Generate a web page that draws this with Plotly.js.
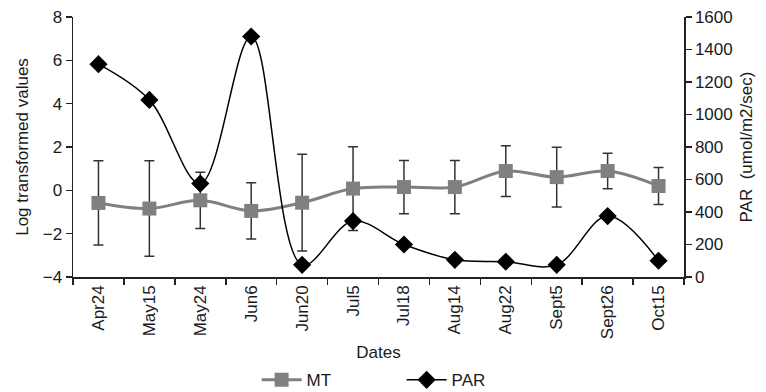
<!DOCTYPE html>
<html>
<head>
<meta charset="utf-8">
<script src="https://cdn.plot.ly/plotly-3.0.1.min.js"></script>
<style>html,body{margin:0;padding:0;background:#fff;}#chart{width:766px;height:392px;}</style>
</head>
<body>
<div id="chart"></div>
<script>
const dates = ["Apr24","May15","May24","Jun6","Jun20","Jul5","Jul18","Aug14","Aug22","Sept5","Sept26","Oct15"];
const mtValues = [-0.58, -0.84, -0.46, -0.95, -0.57, 0.08, 0.15, 0.15, 0.89, 0.61, 0.89, 0.20];
const mtErrors = [1.94, 2.20, 1.30, 1.30, 2.23, 1.93, 1.23, 1.23, 1.17, 1.38, 0.82, 0.85];
const parValues = [1310, 1090, 575, 1480, 75, 344, 200, 106, 94, 75, 375, 100];
const leftTicks = [-4, -2, 0, 2, 4, 6, 8];
const rightTicks = [0, 200, 400, 600, 800, 1000, 1200, 1400, 1600];

const FONT = "Liberation Sans, Arial, sans-serif";
const TXT = "#1a1a1a";
const traces = [
  {
    x: dates, y: mtValues, name: "MT", type: "scatter", mode: "lines+markers",
    line: {color: "#808080", width: 3, shape: "spline", smoothing: 1},
    marker: {symbol: "square", size: 14, color: "#808080"},
    error_y: {type: "data", array: mtErrors, visible: true, color: "#333333", thickness: 1.5, width: 5},
    yaxis: "y"
  },
  {
    x: dates, y: parValues, name: "PAR", type: "scatter", mode: "lines+markers",
    line: {color: "#000000", width: 1.5, shape: "spline", smoothing: 1},
    marker: {symbol: "diamond", size: 14, color: "#000000"},
    yaxis: "y2"
  }
];

const layout = {
  width: 766, height: 392,
  margin: {l: 73, r: 82, t: 17, b: 115, pad: 0, autoexpand: false},
  paper_bgcolor: "#ffffff", plot_bgcolor: "#ffffff",
  font: {family: FONT, size: 17, color: TXT},
  showlegend: true,
  legend: {orientation: "h", x: 0.335, xanchor: "left", xref: "container",
           y: 0.03, yanchor: "middle", yref: "container",
           font: {family: FONT, size: 17, color: TXT}, itemwidth: 40, tracegroupgap: 0,
           traceorder: "normal", entrywidth: 90},
  xaxis: {
    type: "category", tickangle: -90, showgrid: false, zeroline: false,
    showline: true, linecolor: "#222", linewidth: 1.5,
    ticks: "outside", ticklen: 6, tickwidth: 1.5, tickcolor: "#222", tickson: "boundaries",
    tickfont: {family: FONT, size: 17, color: TXT},
    title: {text: "Dates", font: {family: FONT, size: 17, color: TXT}, standoff: 9},
    range: [-0.5, dates.length - 0.5], automargin: false
  },
  yaxis: {
    range: [-4, 8], tickvals: leftTicks, showgrid: false, zeroline: false,
    showline: true, linecolor: "#222", linewidth: 1.5,
    ticks: "outside", ticklen: 6, tickwidth: 1.5, tickcolor: "#222",
    tickfont: {family: FONT, size: 17, color: TXT},
    title: {text: "Log transformed values", font: {family: FONT, size: 17, color: TXT}, standoff: 10},
    automargin: false
  },
  yaxis2: {
    range: [0, 1600], tickvals: rightTicks, overlaying: "y", side: "right",
    showgrid: false, zeroline: false,
    showline: true, linecolor: "#222", linewidth: 1.5,
    ticks: "outside", ticklen: 6, tickwidth: 1.5, tickcolor: "#222",
    tickfont: {family: FONT, size: 17, color: TXT},
    title: {text: "PAR  (umol/m2/sec)", font: {family: FONT, size: 17, color: TXT}, standoff: 8},
    automargin: false
  },
  yaxis3: {
    range: [-4, 8], tickvals: leftTicks, overlaying: "y", side: "left", showticklabels: false,
    showgrid: false, zeroline: false, showline: false,
    ticks: "inside", ticklen: 6, tickwidth: 1.5, tickcolor: "#222"
  },
  yaxis4: {
    range: [0, 1600], tickvals: rightTicks, overlaying: "y", side: "right", showticklabels: false,
    showgrid: false, zeroline: false, showline: false,
    ticks: "inside", ticklen: 6, tickwidth: 1.5, tickcolor: "#222"
  }
};

Plotly.newPlot("chart", traces, layout, {displayModeBar: false, staticPlot: true});
</script>
</body>
</html>
